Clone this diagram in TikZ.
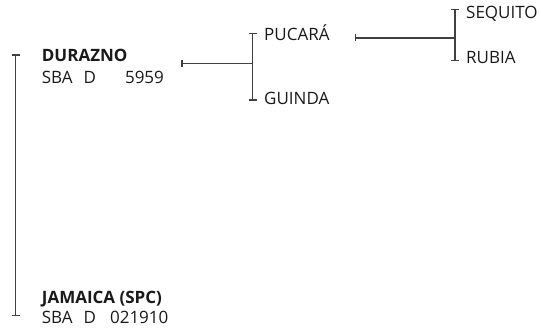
\documentclass[tikz,border=0pt]{standalone}
\usepackage{fontspec}
\setmainfont{Open Sans}
\usetikzlibrary{arrows.meta}

\newcommand{\sbacode}[2]{SBA\hspace{11pt}D\hspace{#1}#2}

\begin{document}
\begin{tikzpicture}[
    x=1pt, y=-1pt,
    variety/.style={anchor=base west, inner sep=0pt, font=\fontsize{17}{20}\selectfont, text=black!90},
    parentvar/.style={variety, font=\fontsize{17}{20}\selectfont\bfseries},
    bracket/.style={{Bar[width=8pt]}-{Bar[width=8pt]}, line width=1.2pt, black!75},
    link/.style={{Bar[width=7pt]}-, line width=1.2pt, black!75}
]
\useasboundingbox (0,0) rectangle (540,331);

% === LEFT: DURAZNO x JAMAICA ===
\node[parentvar] (dur) at (41.7, 61.5) {DURAZNO};
\node[variety] (durcode) at (41.7, 83.5) {\sbacode{29pt}{5959}};
\node[parentvar] (jam) at (41.7, 303.3) {JAMAICA (SPC)};
\node[variety] (jamcode) at (41.7, 323.3) {\sbacode{14pt}{021910}};

\coordinate (lefttop) at (15.5, 54.5);
\coordinate (leftbot) at (15.5, 315.7);
\draw[bracket] (lefttop) -- (leftbot);

% === MIDDLE: PUCARA x GUINDA ===
\node[variety] (puc) at (264, 40.7) {PUCARÁ};
\node[variety] (gui) at (264, 104.7) {GUINDA};

\coordinate (midtop) at (252.7, 32.7);
\coordinate (midbot) at (252.7, 100.7);
\coordinate (midjoin) at (252.7, 63.5);
\coordinate (durend) at (181.3, 63.5);
\draw[bracket] (midtop) -- (midbot);
\draw[link] (durend) -- (midjoin);

% === RIGHT: SEQUITO x RUBIA ===
\node[variety] (seq) at (466, 18.3) {SEQUITO};
\node[variety] (rub) at (466, 63.5) {RUBIA};

\coordinate (righttop) at (455, 9.3);
\coordinate (rightbot) at (455, 61);
\coordinate (rightjoin) at (455, 38);
\coordinate (pucend) at (355, 38);
\draw[bracket] (righttop) -- (rightbot);
\draw[link] (pucend) -- (rightjoin);

\end{tikzpicture}
\end{document}
